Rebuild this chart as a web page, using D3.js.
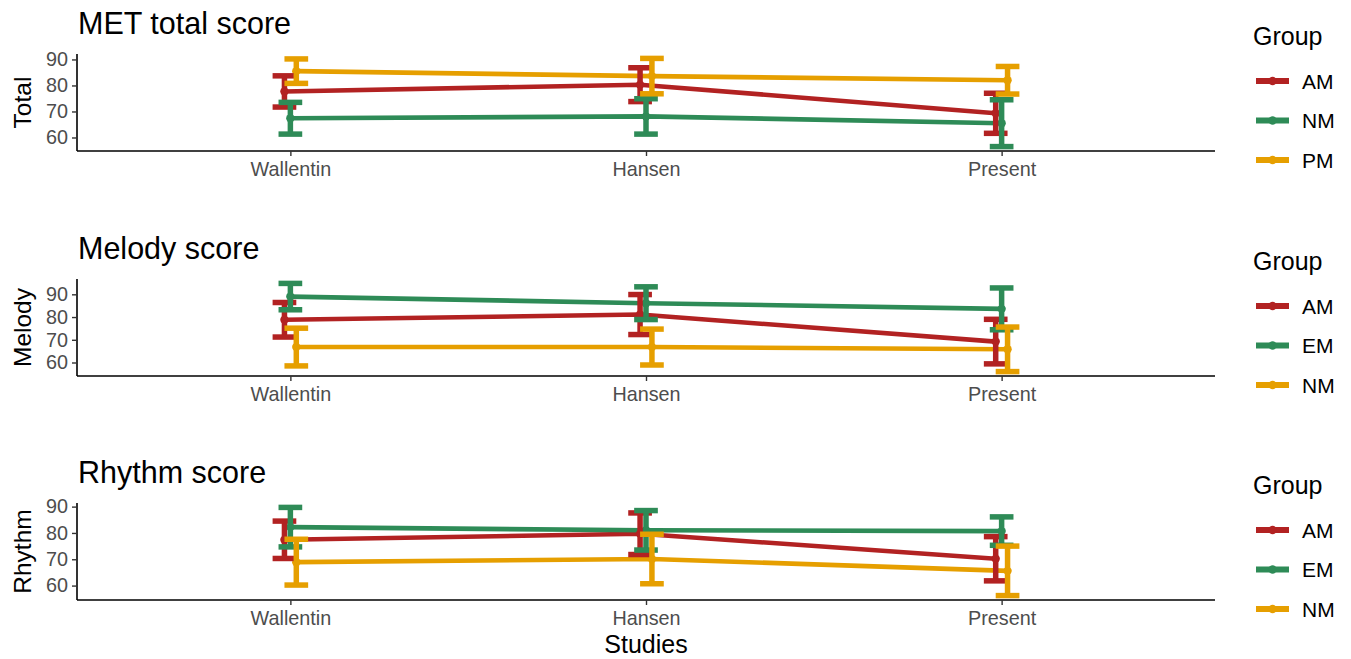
<!DOCTYPE html>
<html>
<head>
<meta charset="utf-8">
<script src="https://cdn.jsdelivr.net/npm/d3@7"></script>
<style>
  html, body { margin: 0; padding: 0; background: #fff; }
  svg { display: block; font-family: "Liberation Sans", Arial, sans-serif; }
</style>
</head>
<body>
<svg id="chart" width="1351" height="659"></svg>
<script>
// Studies on the x axis
const studies = ["Wallentin", "Hansen", "Present"];

// MET total score: group names, means and SDs (rows follow group order)
const totalGroups = ["AM", "NM", "PM"];
const totalMeans = [[77.7, 80.3, 69.3], [67.4, 68.1, 65.5], [85.5, 83.6, 82.0]];
const totalSDs   = [[6.0, 6.5, 7.7],    [6.1, 6.8, 9.0],    [4.7, 6.8, 5.3]];

// Melody score
const melodyGroups = ["AM", "EM", "NM"];
const melodyMeans = [[78.8, 81.1, 69.2], [89.0, 86.1, 83.6], [66.8, 66.8, 65.8]];
const melodySDs   = [[7.6, 8.8, 9.8],    [5.8, 7.2, 9.2],    [8.3, 7.9, 9.8]];

// Rhythm score
const rhythmGroups = ["AM", "EM", "NM"];
const rhythmMeans = [[77.4, 79.7, 70.2], [82.2, 81.0, 80.7], [68.9, 70.1, 65.6]];
const rhythmSDs   = [[7.1, 7.9, 8.4],    [7.5, 7.5, 5.4],    [8.7, 9.4, 9.4]];

const yTicks = [60, 70, 80, 90];
const palette = ["#B22222", "#2E8B57", "#E69F00"];

const panels = [
  { title: "MET total score", yLabel: "Total",  groups: totalGroups,  means: totalMeans,  sds: totalSDs,  top: 54 },
  { title: "Melody score",    yLabel: "Melody", groups: melodyGroups, means: melodyMeans, sds: melodySDs, top: 279 },
  { title: "Rhythm score",    yLabel: "Rhythm", groups: rhythmGroups, means: rhythmMeans, sds: rhythmSDs, top: 503 }
];

const svg = d3.select("#chart");
const left = 77, right = 1215, plotH = 97;
const dodge = 0.05;        // dodge width in category units
const capWidth = 0.2 / 3;  // error-bar cap width in category units

const x = d3.scalePoint().domain(studies).range([left, right]).padding(0.6);
const step = x.step();

panels.forEach(p => {
  const g = svg.append("g");
  const top = p.top, bottom = top + plotH;

  // records for each group and study
  const recs = p.groups.map((name, gi) => studies.map((s, si) => ({
    group: name, gi, study: s,
    mean: p.means[gi][si], sd: p.sds[gi][si]
  })));
  const flat = recs.flat();
  const lo = d3.min(flat, d => d.mean - d.sd);
  const hi = d3.max(flat, d => d.mean + d.sd);
  const pad = (hi - lo) * 0.05;
  const y = d3.scaleLinear().domain([lo - pad, hi + pad]).range([bottom, top]);

  const n = p.groups.length;
  const xOff = gi => (gi - (n - 1) / 2) * (dodge / n) * step;
  const px = d => x(d.study) + xOff(d.gi);

  // lines
  const line = d3.line().x(px).y(d => y(d.mean));
  g.selectAll("path.series").data(recs).join("path")
    .attr("class", "series")
    .attr("d", line)
    .attr("fill", "none")
    .attr("stroke", (d, i) => palette[i])
    .attr("stroke-width", 4.6);

  // points
  g.selectAll("circle.pt").data(flat).join("circle")
    .attr("class", "pt")
    .attr("cx", px).attr("cy", d => y(d.mean))
    .attr("r", 4.2)
    .attr("fill", d => palette[d.gi]);

  // error bars
  const cw = capWidth * step / 2;
  const eb = g.selectAll("g.eb").data(flat).join("g").attr("class", "eb")
    .attr("stroke", d => palette[d.gi]).attr("stroke-width", 5.5);
  eb.append("line")
    .attr("x1", px).attr("x2", px)
    .attr("y1", d => y(d.mean - d.sd)).attr("y2", d => y(d.mean + d.sd));
  eb.append("line")
    .attr("x1", d => px(d) - cw).attr("x2", d => px(d) + cw)
    .attr("y1", d => y(d.mean + d.sd)).attr("y2", d => y(d.mean + d.sd));
  eb.append("line")
    .attr("x1", d => px(d) - cw).attr("x2", d => px(d) + cw)
    .attr("y1", d => y(d.mean - d.sd)).attr("y2", d => y(d.mean - d.sd));

  // axes
  const xAxis = g.append("g").attr("transform", `translate(0,${bottom})`)
    .call(d3.axisBottom(x).tickSize(5).tickPadding(6));
  const yAxis = g.append("g").attr("transform", `translate(${left},0)`)
    .call(d3.axisLeft(y).tickValues(yTicks).tickSize(5).tickPadding(4));
  [xAxis, yAxis].forEach(a => {
    a.select(".domain").attr("stroke", "#000").attr("stroke-width", 1.6);
    a.selectAll(".tick line").attr("stroke", "#333").attr("stroke-width", 1.4);
    a.selectAll(".tick text").attr("fill", "#4D4D4D")
      .style("font-size", "19.8px").style("font-family", "Liberation Sans, Arial, sans-serif");
  });
  // axis domain lines without the outer tick stubs
  xAxis.select(".domain").attr("d", `M${left},0H${right}`);
  yAxis.select(".domain").attr("d", `M0,${top}V${bottom}`);

  // panel title
  svg.append("text").attr("x", 78).attr("y", top - 20)
    .style("font-size", "30.5px").attr("fill", "#000").text(p.title);

  // y axis title
  svg.append("text")
    .attr("transform", `translate(31,${(top + bottom) / 2}) rotate(-90)`)
    .attr("text-anchor", "middle")
    .style("font-size", "24.5px").attr("fill", "#000").text(p.yLabel);

  // legend
  const lg = svg.append("g").attr("transform", `translate(1253,${top - 9})`);
  lg.append("text").attr("x", 0).attr("y", 0)
    .style("font-size", "25px").attr("fill", "#000").text("Group");
  p.groups.forEach((name, gi) => {
    const ly = 36 + gi * 39.5;
    lg.append("line").attr("x1", 3).attr("x2", 36).attr("y1", ly).attr("y2", ly)
      .attr("stroke", palette[gi]).attr("stroke-width", 6);
    lg.append("circle").attr("cx", 19.5).attr("cy", ly).attr("r", 4.2).attr("fill", palette[gi]);
    lg.append("text").attr("x", 49).attr("y", ly).attr("dy", "0.36em")
      .style("font-size", "21px").attr("fill", "#000").text(name);
  });
});

// shared x axis title
svg.append("text").attr("x", (left + right) / 2).attr("y", 653)
  .attr("text-anchor", "middle").style("font-size", "25px").attr("fill", "#000")
  .text("Studies");
</script>
</body>
</html>
